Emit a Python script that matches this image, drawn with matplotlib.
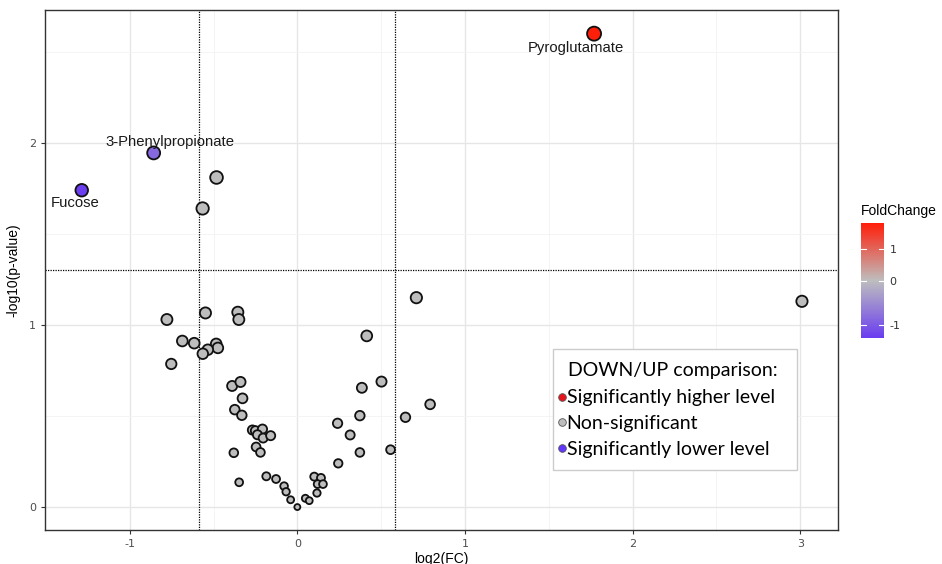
import numpy as np
import matplotlib
matplotlib.use("Agg")
import matplotlib.pyplot as plt
from matplotlib.colors import LinearSegmentedColormap, TwoSlopeNorm
from matplotlib.lines import Line2D
from matplotlib.patches import Rectangle

plt.rcParams["axes.unicode_minus"] = False

# significant metabolites (log2 FC, -log10 p)
sig_names = ["Pyroglutamate", "3-Phenylpropionate", "Fucose"]
sig_fc = [1.77, -0.857, -1.286]
sig_p = [2.60, 1.945, 1.74]

# non-significant metabolites
ns_fc = [-0.482, -0.565, 0.71, 3.01, -0.778, -0.548, -0.355, -0.349, -0.686,
         -0.615, -0.484, -0.474, -0.534, -0.564, -0.752, -0.389, -0.339, -0.327,
         -0.373, -0.331, -0.268, -0.25, -0.208, -0.238, -0.204, -0.159, -0.246,
         -0.22, -0.379, -0.347, -0.185, -0.127, -0.079, -0.067, -0.04, 0.0,
         0.048, 0.071, 0.101, 0.141, 0.121, 0.153, 0.117, 0.24, 0.244, 0.414,
         0.385, 0.502, 0.792, 0.645, 0.373, 0.315, 0.373, 0.556]
ns_p = [1.81, 1.64, 1.15, 1.13, 1.03, 1.066, 1.07, 1.03, 0.912,
        0.90, 0.896, 0.874, 0.864, 0.842, 0.786, 0.665, 0.687, 0.597,
        0.535, 0.504, 0.423, 0.419, 0.428, 0.397, 0.379, 0.392, 0.33,
        0.30, 0.298, 0.136, 0.169, 0.154, 0.115, 0.084, 0.040, 0.0,
        0.048, 0.035, 0.167, 0.16, 0.126, 0.126, 0.077, 0.46, 0.24, 0.94,
        0.655, 0.689, 0.564, 0.493, 0.502, 0.396, 0.30, 0.315]

fc_cut = 0.585
p_cut = 1.301

legend_title = "DOWN/UP comparison:"
legend_labels = ["Significantly higher level", "Non-significant", "Significantly lower level"]

cmap = LinearSegmentedColormap.from_list("fc", ["#6a3df0", "#bebebe", "#ff1e0a"])
norm = TwoSlopeNorm(vmin=-1.3, vcenter=0, vmax=1.79)

fig = plt.figure(figsize=(9.42, 5.64), dpi=100)
ax = fig.add_axes([0.0478, 0.0603, 0.8418, 0.922])

x = np.array(ns_fc + sig_fc)
y = np.array(ns_p + sig_p)
cval = np.concatenate([np.zeros(len(ns_fc)), np.array(sig_fc)])
sizes = (4.3 + 5.8 * np.sqrt(y / 2.6)) ** 2

sc = ax.scatter(x, y, c=cval, cmap=cmap, norm=norm, s=sizes,
                edgecolors="#111111", linewidths=1.3, zorder=3)

ax.axvline(-fc_cut, color="black", ls=(0, (1, 1)), lw=0.9, zorder=2)
ax.axvline(fc_cut, color="black", ls=(0, (1, 1)), lw=0.9, zorder=2)
ax.axhline(p_cut, color="black", ls=(0, (1, 1)), lw=0.9, zorder=2)

# labels for significant points
lab_kw = dict(textcoords="offset points", ha="center", fontsize=10.7,
              family="Liberation Sans", color="#1a1a1a")
ax.annotate(sig_names[0], (sig_fc[0], sig_p[0]), xytext=(-13, -5), va="top", **lab_kw)
ax.annotate(sig_names[1], (sig_fc[1], sig_p[1]), xytext=(12, 3), va="bottom", **lab_kw)
ax.annotate(sig_names[2], (sig_fc[2], sig_p[2]), xytext=(-5, -4), va="top", **lab_kw)

ax.set_xlim(-1.505, 3.225)
ax.set_ylim(-0.126, 2.73)
ax.set_xticks([-1, 0, 1, 2, 3])
ax.set_yticks([0, 1, 2])
ax.set_xticks([-0.5, 0.5, 1.5, 2.5], minor=True)
ax.set_yticks([0.5, 1.5, 2.5], minor=True)
ax.grid(which="major", color="#e6e6e6", lw=1.0, zorder=0)
ax.grid(which="minor", color="#f2f2f2", lw=0.6, zorder=0)
ax.tick_params(which="minor", length=0)
ax.tick_params(which="major", length=3, color="#333333", labelcolor="#4d4d4d", labelsize=8)
for sp in ax.spines.values():
    sp.set_color("#333333")
    sp.set_linewidth(1.0)

ax.set_xlabel("log2(FC)", fontsize=10, family="Liberation Sans", labelpad=2)
ax.set_ylabel("-log10(p-value)", fontsize=10, family="Liberation Sans", labelpad=6)

# legend box drawn separately, title and entries placed inside it
ax.add_patch(Rectangle((0.6406, 0.1154), 0.3077, 0.2326, transform=ax.transAxes,
                       facecolor="white", edgecolor="#cccccc", lw=1.0, zorder=4))
ax.text(0.6595, 0.3058, legend_title, transform=ax.transAxes, ha="left", va="center",
        family="Lato", fontsize=14, color="black", zorder=5)
handles = [Line2D([], [], marker="o", ls="", markersize=5.5, markerfacecolor=c,
                  markeredgecolor="#555555", markeredgewidth=0.6)
           for c in ["#e8141c", "#bebebe", "#6236ff"]]
leg = ax.legend(handles, legend_labels, loc="upper left",
                bbox_to_anchor=(0.6473, 0.2702), frameon=False,
                handletextpad=0.08, handlelength=0.35, borderpad=0, labelspacing=0.45,
                borderaxespad=0, prop={"family": "Lato", "size": 14})
leg.set_zorder(5)

# colorbar
cax = fig.add_axes([0.914, 0.4012, 0.0244, 0.2028])
cb = fig.colorbar(sc, cax=cax, ticks=[-1, 0, 1])
cb.outline.set_visible(False)
cb.ax.tick_params(length=0, labelsize=8, labelcolor="#333333", pad=4)
for t in [-1, 0, 1]:
    cax.plot([0, 0.22], [t, t], color="white", lw=0.8)
    cax.plot([0.78, 1], [t, t], color="white", lw=0.8)
cax.set_xlim(0, 1)
cb.ax.set_title("FoldChange", fontsize=10, family="Liberation Sans", loc="left", pad=6)

fig.savefig("out.png", dpi=100)
